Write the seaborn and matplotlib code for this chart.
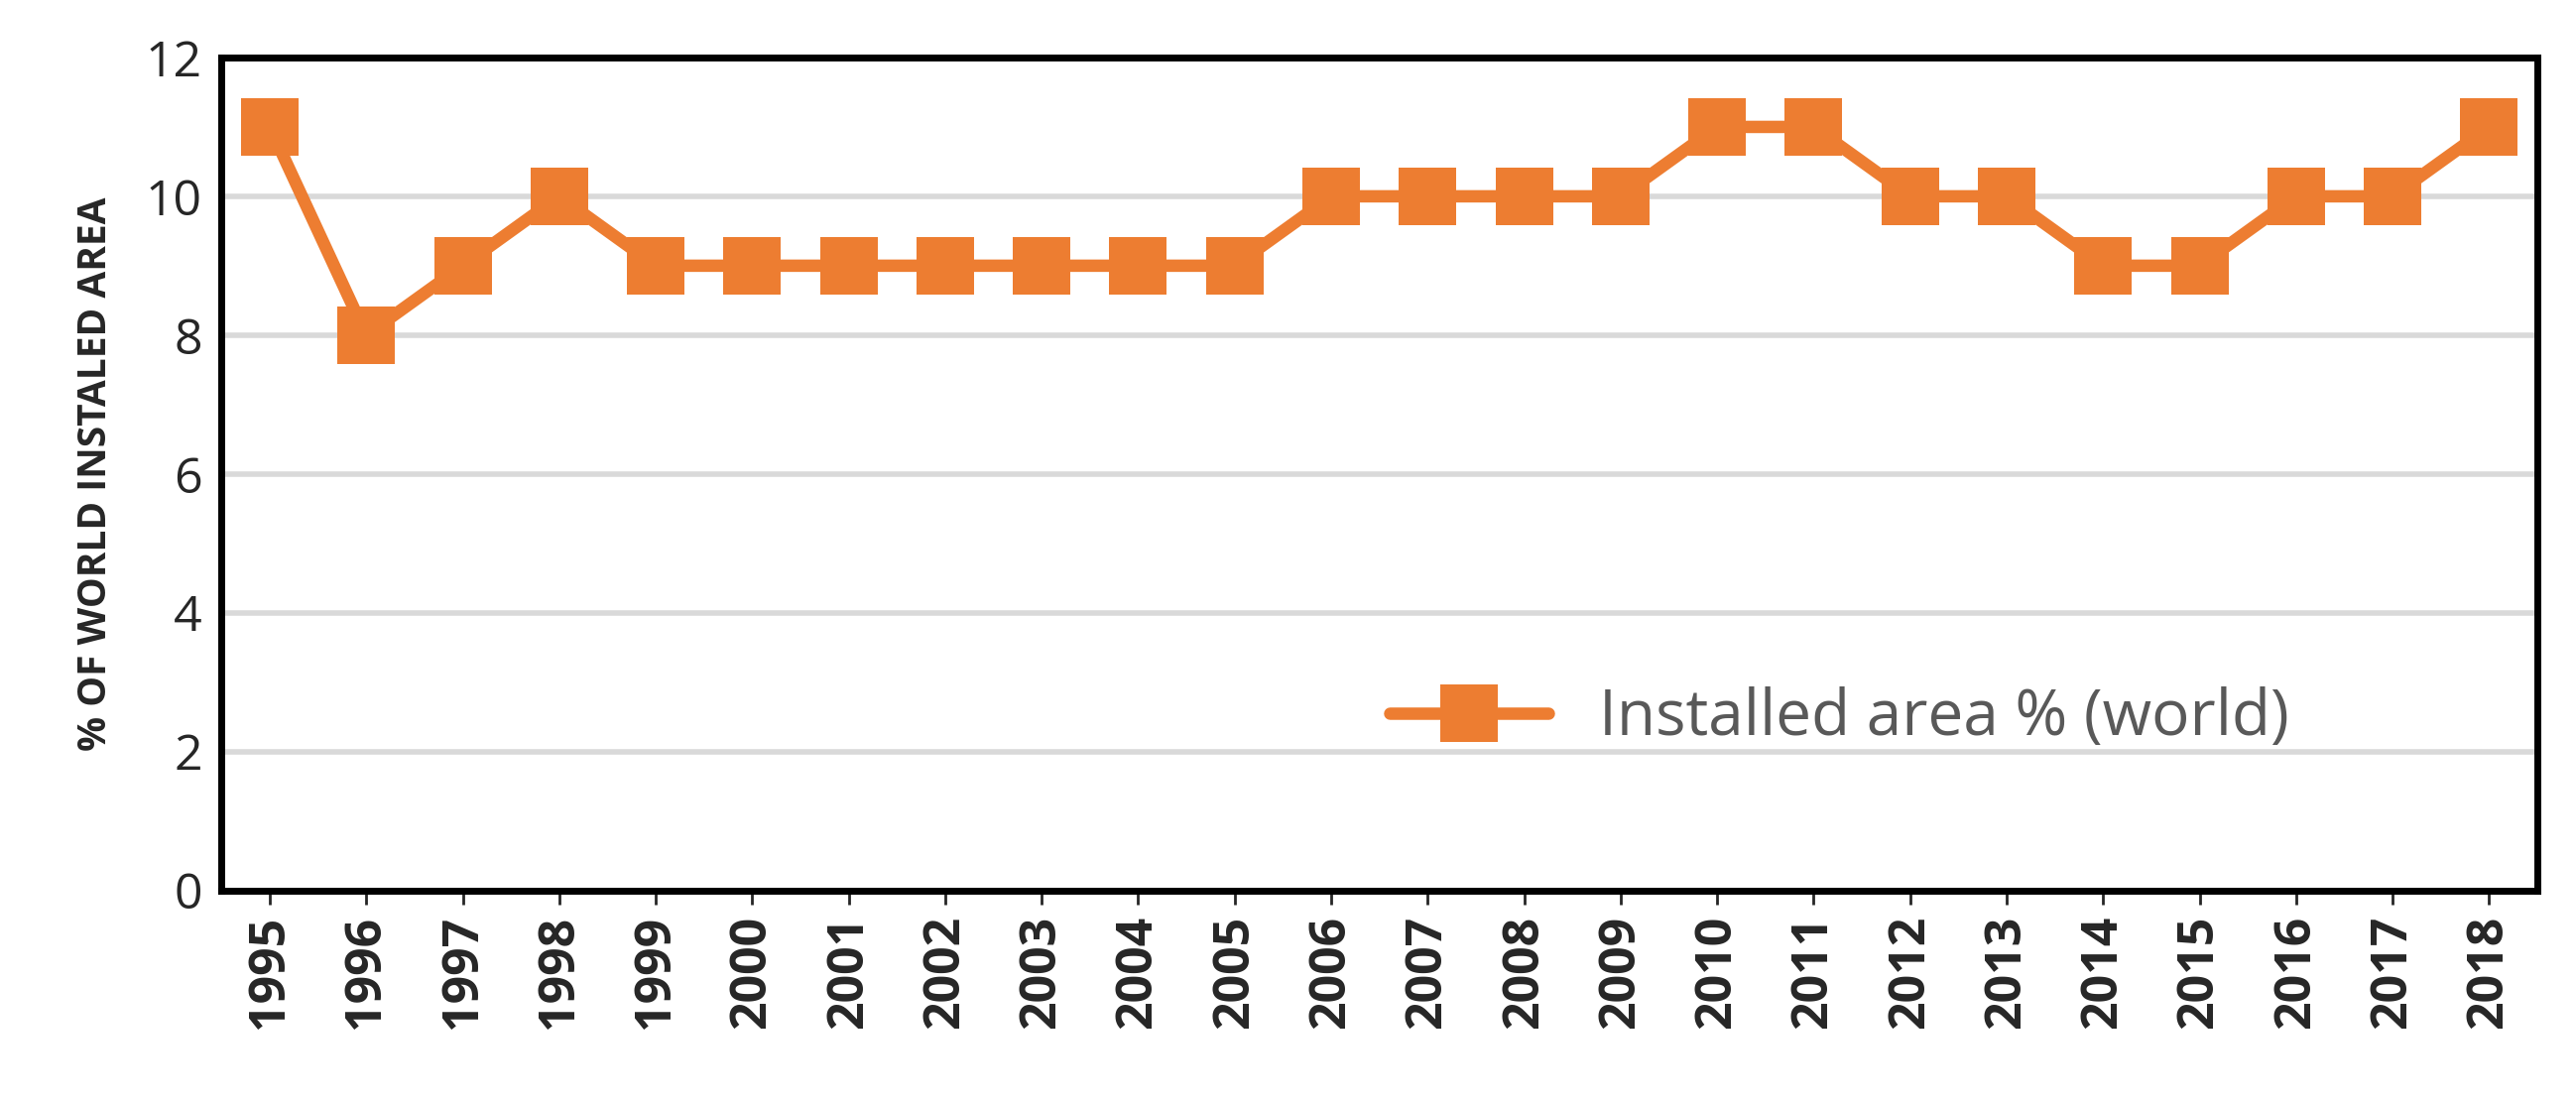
import matplotlib
matplotlib.use("Agg")
import matplotlib.pyplot as plt
import seaborn as sns
import pandas as pd

years = [str(y) for y in range(1995, 2019)]
share = [11, 8, 9, 10, 9, 9, 9, 9, 9, 9, 9, 10, 10, 10, 10, 11, 11, 10, 10, 9, 9, 10, 10, 11]

sns.set_style("white")
plt.rcParams['font.family'] = ['Open Sans', 'DejaVu Sans']

df = pd.DataFrame({'year': years, 'share': share})

fig = plt.figure(figsize=(25.97, 11.15), dpi=100)
ax = fig.add_axes([0.086, 0.195, 0.899, 0.753])

sns.lineplot(data=df, x='year', y='share', ax=ax, color='#ED7D31',
             linewidth=9, marker='s', markersize=42, markeredgewidth=0,
             label='Installed area % (world)', sort=False)

ax.set_xlim(-0.5, len(years) - 0.5)
ax.set_ylim(0, 12)
ax.set_yticks(range(0, 13, 2))
ax.yaxis.grid(True, color='#d9d9d9', linewidth=4)
ax.set_axisbelow(True)
for s in ax.spines.values():
    s.set_color('black')
    s.set_linewidth(5)

ax.tick_params(axis='y', labelsize=36, length=0, pad=14)
ax.tick_params(axis='x', labelsize=36, rotation=90, length=10, width=2, bottom=True, pad=8)
for lab in ax.get_xticklabels():
    lab.set_fontweight('bold')
ax.set_xlabel('')
ax.set_ylabel('% OF WORLD INSTALED AREA', fontsize=28, fontweight='bold', labelpad=22)

leg = ax.legend(loc='lower left', bbox_to_anchor=(0.48, 0.1), frameon=False,
                fontsize=46, handlelength=2.5, markerscale=1.0)
for t in leg.get_texts():
    t.set_color('#595959')

fig.savefig('out.png', dpi=100)
